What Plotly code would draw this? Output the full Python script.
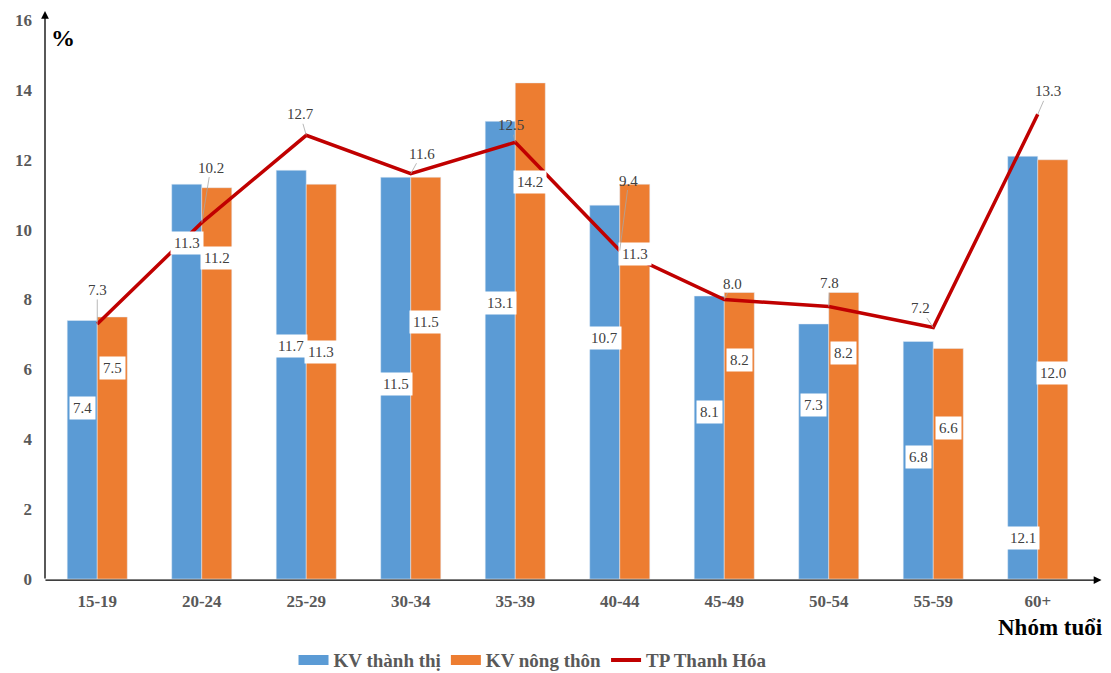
import plotly.graph_objects as go

# Age groups and shares (%)
age_groups = ["15-19", "20-24", "25-29", "30-34", "35-39",
              "40-44", "45-49", "50-54", "55-59", "60+"]
urban = [7.4, 11.3, 11.7, 11.5, 13.1, 10.7, 8.1, 7.3, 6.8, 12.1]
rural = [7.5, 11.2, 11.3, 11.5, 14.2, 11.3, 8.2, 8.2, 6.6, 12.0]
city = [7.3, 10.2, 12.7, 11.6, 12.5, 9.4, 8.0, 7.8, 7.2, 13.3]
y_ticks = [0, 2, 4, 6, 8, 10, 12, 14, 16]

# Where the value boxes sit inside the bars (axis units)
urban_label_y = [4.9, 9.63, 6.66, 5.57, 7.91, 6.89, 4.77, 4.97, 3.49, 1.17]
rural_label_y = [6.03, 9.2, 6.51, 7.37, 11.37, 9.31, 6.26, 6.46, 4.31, 5.91]
# Pixel offsets of the line's value labels from their points
city_label_dx = [0, 9, -6, 11, -4, 9, 8, 1, -13, 10]
city_label_dy = [-34, -55, -21, -20, -17, -70, -16, -23, -19, -23]

BLUE = "#5B9BD5"
ORANGE = "#ED7D31"
RED = "#C00000"
GREY = "#595959"
SERIF = "Liberation Serif"

fig = go.Figure()
fig.add_trace(go.Bar(x=age_groups, y=urban, name="KV thành thị",
                     marker=dict(color=BLUE), showlegend=False))
fig.add_trace(go.Bar(x=age_groups, y=rural, name="KV nông thôn",
                     marker=dict(color=ORANGE), showlegend=False))
fig.add_trace(go.Scatter(x=age_groups, y=city, name="TP Thanh Hóa",
                         mode="lines", line=dict(color=RED, width=3.5),
                         showlegend=False))

# Legend entries drawn as wide swatches
for name, color, width in [("KV thành thị", BLUE, 10),
                           ("KV nông thôn", ORANGE, 10),
                           ("TP Thanh Hóa", RED, 4)]:
    fig.add_trace(go.Scatter(x=[None], y=[None], mode="lines",
                             name=f"<b>{name}</b>",
                             line=dict(color=color, width=width)))

annotations = []
label_font = dict(family=SERIF, size=15, color="#404040")
for cat, v, ly in zip(age_groups, urban, urban_label_y):
    annotations.append(dict(x=cat, y=ly, xshift=-15, text=f"{v:.1f}",
                            showarrow=False, bgcolor="white", borderpad=3,
                            font=label_font))
for cat, v, ly in zip(age_groups, rural, rural_label_y):
    annotations.append(dict(x=cat, y=ly, xshift=15, text=f"{v:.1f}",
                            showarrow=False, bgcolor="white", borderpad=3,
                            font=label_font))
for cat, v, dx, dy in zip(age_groups, city, city_label_dx, city_label_dy):
    annotations.append(dict(x=cat, y=v, ax=dx, ay=dy, text=f"{v:.1f}",
                            showarrow=True, arrowhead=0, arrowwidth=0.8,
                            arrowcolor="#A6A6A6", standoff=0,
                            font=label_font))

# Axis arrows
annotations.append(dict(xref="x domain", yref="y domain",
                        axref="x domain", ayref="y domain",
                        x=0, y=1.016, ax=0, ay=-0.002, text="", showarrow=True,
                        arrowhead=2, arrowsize=1.2, arrowwidth=1.3,
                        arrowcolor="#000000"))
annotations.append(dict(xref="x domain", yref="y domain",
                        axref="x domain", ayref="y domain",
                        x=1.011, y=-0.002, ax=-0.001, ay=-0.002, text="",
                        showarrow=True, arrowhead=2, arrowsize=1.2,
                        arrowwidth=1.3, arrowcolor="#000000"))
# Axis titles
annotations.append(dict(xref="paper", yref="paper", x=0.017, y=0.968,
                        xanchor="center", yanchor="middle",
                        text="<b>%</b>", showarrow=False,
                        font=dict(family=SERIF, size=24, color="#000000")))
annotations.append(dict(xref="paper", yref="paper", x=0.962, y=-0.086,
                        xanchor="center", yanchor="middle",
                        text="<b>Nhóm tuổi</b>", showarrow=False,
                        font=dict(family=SERIF, size=23, color="#000000")))

fig.update_layout(
    width=1111, height=673,
    font=dict(family=SERIF),
    margin=dict(l=45, r=21, t=20, b=94, autoexpand=False),
    paper_bgcolor="white", plot_bgcolor="white",
    barmode="group", bargap=0.425, bargroupgap=0,
    annotations=annotations,
    legend=dict(orientation="h", x=0.467, xanchor="center", y=-0.145,
                yanchor="middle", itemwidth=30,
                font=dict(family=SERIF, size=19, color=GREY)),
    xaxis=dict(showline=False, showgrid=False, ticks="",
               tickmode="array", tickvals=age_groups,
               ticktext=[f"<b>{g}</b>" for g in age_groups],
               tickfont=dict(family=SERIF, size=17, color=GREY),
               ticklabelstandoff=10),
    yaxis=dict(range=[0, 16], showline=False, showgrid=False,
               zeroline=False, ticks="",
               tickmode="array", tickvals=y_ticks,
               ticktext=[f"<b>{t}</b>" for t in y_ticks],
               tickfont=dict(family=SERIF, size=17, color=GREY),
               ticklabelstandoff=12),
)

fig.write_html("out.html")
